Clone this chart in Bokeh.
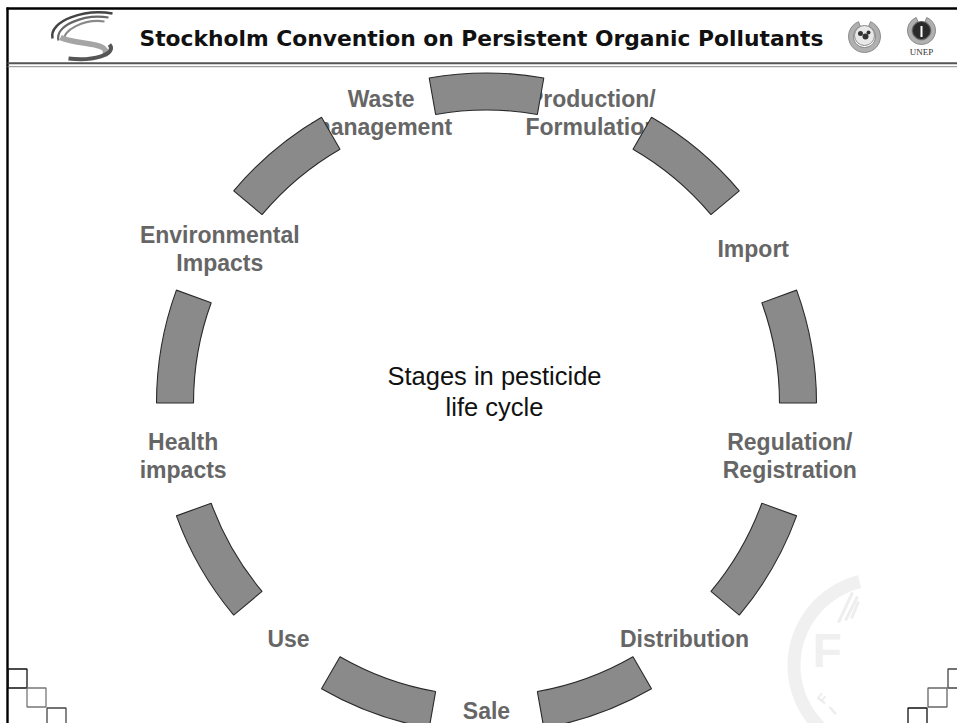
import math
from bokeh.plotting import figure
from bokeh.models import Range1d
from bokeh.core.properties import value
from bokeh.embed import file_html
from bokeh.resources import INLINE

# ---------------- data ----------------
title = "Stockholm Convention on Persistent Organic Pollutants"
stage_lines = [
    ["Production/", "Formulation"],
    ["Import"],
    ["Regulation/", "Registration"],
    ["Distribution"],
    ["Sale"],
    ["Use"],
    ["Health", "impacts"],
    ["Environmental", "Impacts"],
    ["Waste", "management"],
]
center_lines = ["Stages in pesticide", "life cycle"]
unep_caption = "UNEP"
watermark_letter = "F"

# ---------------- layout ----------------
W, H = 957, 723


def Y(y):
    """screen y (px from top) -> data y"""
    return H - y


def TY(y, size):
    """screen baseline y -> data y, corrected for the renderer's baseline offset"""
    return H - (y - 0.36 * size)


R = math.radians
CX, CY = 486.0, 402.5     # circle centre (screen px)
R_OUT, R_IN = 330.0, 293.0
R_LABEL = 308.0
N = len(stage_lines)
STEP = 360.0 / N
FIRST_LABEL_ANGLE = 70.0  # first label sits in the gap at 70 deg
LABEL_FONT = value("Liberation Sans")
LABEL_PX = 23
LABEL_COLOR = "#666666"
TITLE_PX = 21.8
CENTER_PX = 25.5

p = figure(width=W, height=H,
           x_range=Range1d(0, W), y_range=Range1d(0, H),
           x_axis_type=None, y_axis_type=None,
           output_backend="svg", toolbar_location=None,
           min_border=0, background_fill_color="white",
           border_fill_color="white")
p.grid.visible = False
p.outline_line_color = None

# ---------------- frame ----------------
p.segment(x0=[6], y0=[Y(8)], x1=[957], y1=[Y(8)], line_color="black", line_width=2.6)
p.segment(x0=[7], y0=[Y(7)], x1=[7], y1=[Y(723)], line_color="black", line_width=2.4)
p.segment(x0=[7], y0=[Y(62.7)], x1=[957], y1=[Y(62.7)], line_color="#555555", line_width=2)
p.segment(x0=[7], y0=[Y(66.2)], x1=[957], y1=[Y(66.2)], line_color="#8a8a8a", line_width=1)

# corner squares
lsq_l = [7.5, 26.5, 46.5]
lsq_t = [668.5, 687.5, 707.5]
p.quad(left=lsq_l, right=[v + 19 for v in lsq_l], top=[Y(v) for v in lsq_t],
       bottom=[Y(v + 19) for v in lsq_t], fill_color=None,
       line_color=["#111111", "#777777", "#444444"], line_width=1.3)
rsq_l = [947.5, 927.5, 907.5]
p.quad(left=rsq_l, right=[v + 19 for v in rsq_l], top=[Y(v) for v in lsq_t],
       bottom=[Y(v + 19) for v in lsq_t], fill_color=None,
       line_color=["#444444", "#666666", "#111111"], line_width=1.3)

# ---------------- FAO watermark ----------------
p.annular_wedge(x=[880], y=[Y(665)], inner_radius=80, outer_radius=93,
                start_angle=[R(104)], end_angle=[R(256)],
                fill_color="#f0f0f0", line_color=None)
p.segment(x0=[838, 845, 851], y0=[Y(622), Y(620), Y(618)],
          x1=[852, 857, 858], y1=[Y(592), Y(596), Y(601)],
          line_color="#eeeeee", line_width=3)
p.text(x=[812], y=[TY(667, 48)], text=[watermark_letter], text_font=LABEL_FONT,
       text_font_style="bold", text_font_size="48px", text_color="#f0f0f0",
       text_align="left", text_baseline="alphabetic")
p.text(x=[822, 832], y=[Y(698), Y(710)], text=["F", "I"], text_font=LABEL_FONT,
       text_font_style="bold", text_font_size="14px", text_color="#ececec",
       angle=[0.9, 0.7], text_align="center", text_baseline="middle")

# ---------------- header ----------------
p.text(x=[139], y=[TY(46, TITLE_PX)], text=[title], text_font=value("DejaVu Sans"),
       text_font_style="bold", text_font_size=f"{TITLE_PX}px", text_color="#111111",
       text_align="left", text_baseline="alphabetic")

# left logo (stylised swoosh)
bx0 = [112, 108, 104, 60, 109]
by0 = [13, 17, 21, 37, 44]
bx1 = [52, 58, 64, 104, 68]
by1 = [38, 40, 40, 55, 58]
bc0x = [85, 84, 84, 76, 117]
bc0y = [8, 13, 18, 45, 54]
bc1x = [48, 54, 61, 112, 92]
bc1y = [20, 25, 30, 41, 61]
p.bezier(x0=bx0, y0=[Y(v) for v in by0], x1=bx1, y1=[Y(v) for v in by1],
         cx0=bc0x, cy0=[Y(v) for v in bc0y], cx1=bc1x, cy1=[Y(v) for v in bc1y],
         line_color=["#444444", "#666666", "#8a8a8a", "#a5a5a5", "#555555"],
         line_width=[2.5, 2.2, 2.2, 5.5, 4])

# UN emblem
p.annular_wedge(x=[864], y=[Y(36)], inner_radius=11, outer_radius=16,
                start_angle=[R(112)], end_angle=[R(428)],
                fill_color="#b0b0b0", line_color="#777777", line_width=0.8)
p.circle(x=[864], y=[Y(35)], radius=10, fill_color="#e8e8e8", line_color="#888888")
p.scatter(x=[860, 865, 868], y=[Y(33), Y(36), Y(32)], size=[5, 6, 4],
          marker="circle", fill_color="#333333", line_color=None)

# UNEP emblem
p.annular_wedge(x=[921], y=[Y(30)], inner_radius=9.5, outer_radius=14,
                start_angle=[R(112)], end_angle=[R(428)],
                fill_color="#b0b0b0", line_color="#777777", line_width=0.8)
p.circle(x=[921], y=[Y(30)], radius=9, fill_color="#2a2a2a", line_color="#555555")
p.rect(x=[921], y=[Y(31)], width=2, height=11, fill_color="white", line_color=None)
p.text(x=[921], y=[TY(55, 9)], text=[unep_caption], text_font=value("Liberation Serif"),
       text_font_size="9px", text_color="#333333", text_align="center",
       text_baseline="alphabetic")

# ---------------- stage labels ----------------
lx, ly, lt = [], [], []
for i, lines in enumerate(stage_lines):
    a = math.radians(FIRST_LABEL_ANGLE - i * STEP)
    cx = CX + R_LABEL * math.cos(a)
    cy = CY - R_LABEL * math.sin(a)
    if len(lines) == 1:
        offs = [8.0]
    else:
        offs = [-6.0, 22.0]
    for line, o in zip(lines, offs):
        lx.append(cx)
        ly.append(TY(cy + o, LABEL_PX))
        lt.append(line)
p.text(x=lx, y=ly, text=lt, text_font=LABEL_FONT, text_font_style="bold",
       text_font_size=f"{LABEL_PX}px", text_color=LABEL_COLOR, text_align="center",
       text_baseline="alphabetic")

# centre text
p.text(x=[CX + 8, CX + 8], y=[TY(385, CENTER_PX), TY(416, CENTER_PX)], text=center_lines,
       text_font=LABEL_FONT, text_font_size=f"{CENTER_PX}px", text_color="#111111",
       text_align="center", text_baseline="alphabetic")

# ---------------- cycle segments ----------------
seg_mid = [FIRST_LABEL_ANGLE + STEP / 2 - i * STEP for i in range(N)]
half = STEP / 4
p.annular_wedge(x=[CX] * N, y=[Y(CY)] * N, inner_radius=R_IN, outer_radius=R_OUT,
                start_angle=[R(m - half) for m in seg_mid],
                end_angle=[R(m + half) for m in seg_mid],
                fill_color="#8a8a8a", line_color="#2a2a2a", line_width=1.1)

open("out.html", "w").write(file_html(p, INLINE))
